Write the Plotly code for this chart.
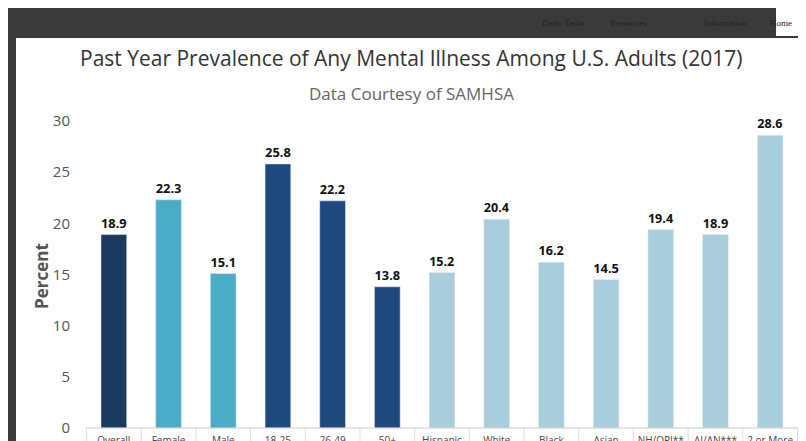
import plotly.graph_objects as go

categories = ["Overall", "Female", "Male", "18-25", "26-49", "50+", "Hispanic", "White", "Black", "Asian", "NH/OPI**", "AI/AN***", "2 or More"]
values = [18.9, 22.3, 15.1, 25.8, 22.2, 13.8, 15.2, 20.4, 16.2, 14.5, 19.4, 18.9, 28.6]
colors = ["#1a3a5e", "#4bacc6", "#4bacc6", "#1f497d", "#1f497d", "#1f497d"] + ["#a8cedb"] * 7

W, H = 806, 441
x0, x1 = 78, 790
y0, y30 = 420, 113

fig = go.Figure(go.Bar(
    x=categories, y=values, marker_color=colors, width=0.47,
    text=[f"<b>{v:.1f}</b>" for v in values], textposition="outside",
    textfont=dict(family="Open Sans", size=13, color="#111"), cliponaxis=False,
))

shapes = [
    dict(type="rect", xref="paper", yref="paper", x0=8/W, x1=793/W, y0=(H-437)/H, y1=(H-30)/H, fillcolor="white", line_width=0, layer="below"),
    dict(type="rect", xref="paper", yref="paper", x0=768/W, x1=1, y0=(H-28)/H, y1=1, fillcolor="white", line_width=0, layer="below"),
    dict(type="line", xref="paper", yref="paper", x0=x0/W, x1=x1/W, y0=(H-y0)/H, y1=(H-y0)/H, line=dict(color="#ccc", width=1)),
]
for i in range(len(categories) + 1):
    shapes.append(dict(type="line", xref="x", yref="paper", x0=i-0.5, x1=i-0.5, y0=(H-437)/H, y1=(H-y0)/H, line=dict(color="#ddd", width=1)))

ann = [
    dict(text="Past Year Prevalence of Any Mental Illness Among U.S. Adults (2017)", x=403/W, y=1-50/H, xref="paper", yref="paper", yanchor="middle", showarrow=False, font=dict(family="Open Sans", size=21, color="#333")),
    dict(text="Data Courtesy of SAMHSA", x=403/W, y=1-85/H, xref="paper", yref="paper", yanchor="middle", showarrow=False, font=dict(family="Open Sans", size=17, color="#666")),
    dict(text="<b>Percent</b>", x=33/W, y=1-268/H, xref="paper", yref="paper", yanchor="middle", xanchor="center", showarrow=False, textangle=-90, font=dict(family="Open Sans", size=17, color="#555")),
]
for t, px in [("Daily Tasks", 579), ("Resources", 641), ("Information", 741), ("Home", 786)]:
    ann.append(dict(text=t, x=px/W, y=1-15/H, xref="paper", yref="paper", yanchor="middle", showarrow=False,
                    font=dict(family="Liberation Serif", size=9, color="#222")))

fig.update_layout(
    width=W, height=H, margin=dict(l=0, r=0, t=0, b=0, autoexpand=False),
    paper_bgcolor="#3a3a3a", plot_bgcolor="white", showlegend=False,
    shapes=shapes, annotations=ann, bargap=0.5,
    xaxis=dict(domain=[x0/W, x1/W], automargin=False, tickangle=0,
               tickfont=dict(family="Open Sans", size=10, color="#444"), ticklen=3, ticks="outside", tickcolor="rgba(0,0,0,0)", showline=False),
    yaxis=dict(domain=[(H-y0)/H, (H-y30)/H], range=[0, 30], dtick=5, showgrid=False, zeroline=False, automargin=False,
               tickfont=dict(family="Open Sans", size=15, color="#555"), ticks="outside", ticklen=12, tickcolor="rgba(0,0,0,0)"),
)
fig.write_html("out.html")
